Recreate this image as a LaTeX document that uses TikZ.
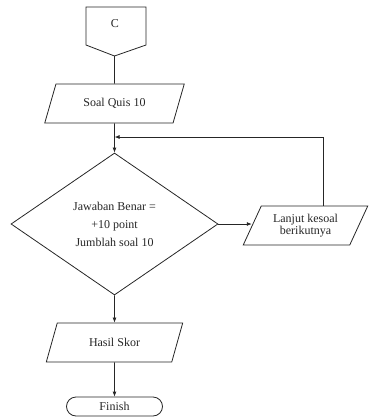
\documentclass[tikz,border=0pt]{standalone}
\usepackage{fontspec}
\setmainfont{Liberation Serif}
\usetikzlibrary{shapes.geometric,shapes.misc,arrows.meta}
\tikzset{
  io/.style={draw,trapezium,trapezium left angle=60,trapezium right angle=120,
    trapezium stretches=true,inner sep=0pt,minimum height=39pt},
  decision/.style={draw,diamond,inner sep=0pt,minimum width=207pt,minimum height=142pt},
  terminal/.style={draw,rounded rectangle,inner sep=0pt,minimum width=96pt,minimum height=19pt},
  arr/.style={-{Latex[length=5pt,width=4pt]}}
}
\begin{document}
\begin{tikzpicture}[x=1pt,y=-1pt,line width=0.8pt,color=black!85,node font=\fontsize{12}{12}\selectfont]
	\useasboundingbox (0,0) rectangle (369,418);
	% penghubung C
	\draw (86,7) -- (146,7) -- (146,45) -- (114.5,56) -- (86,45) -- cycle;
	\node (c) at (115,24) {C};
	\coordinate (ctip) at (114.5,56);
	% simbol
	\node[io,minimum width=140pt] (soal) at (114.5,103.5) {Soal Quis 10};
	\node[decision,align=center] (jawab) at (114.5,224) {Jawaban Benar =\\[6pt]+10 point\\[6pt]Jumblah soal 10};
	\node[io,minimum width=125pt,align=center] (lanjut) at (305.5,225.5) {Lanjut kesoal\\berikutnya};
	\node[io,minimum width=137pt] (hasil) at (114.5,342.5) {Hasil Skor};
	\node[terminal] (finish) at (114.5,406.5) {Finish};
	% garis
	\coordinate (back) at (323,137);
	\draw (ctip) -- (soal);
	\draw[arr] (soal) -- (jawab);
	\draw[arr] (jawab.east) -- (jawab.east -| lanjut.west);
	\draw[arr] (lanjut.north -| back) |- (soal.south |- back);
	\draw[arr] (jawab) -- (hasil);
	\draw[arr] (hasil) -- (finish);
\end{tikzpicture}
\end{document}
